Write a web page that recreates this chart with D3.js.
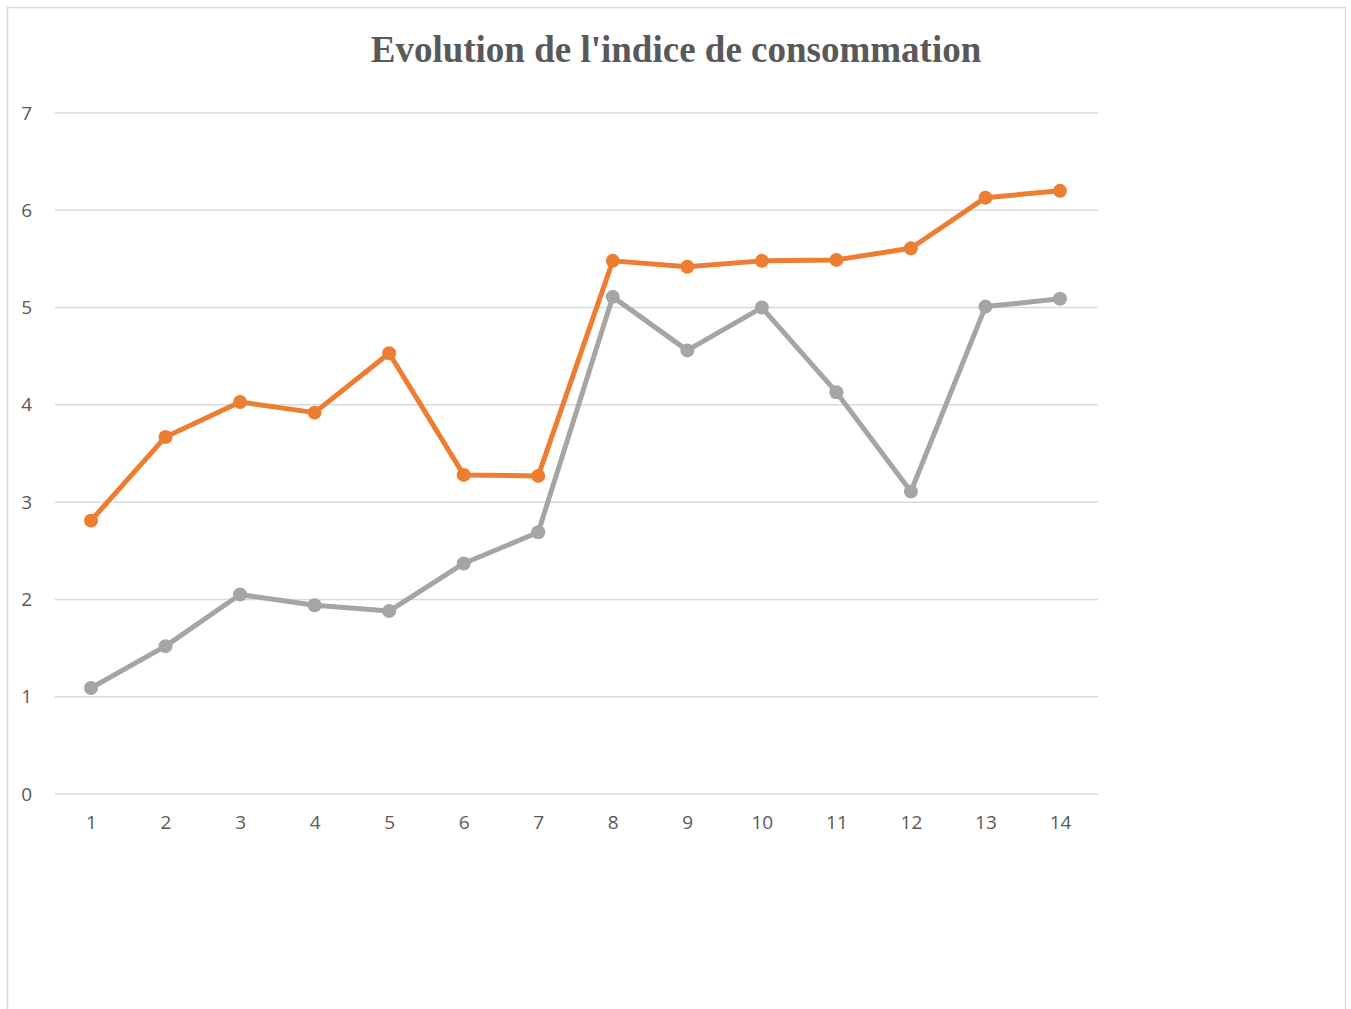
<!DOCTYPE html>
<html><head><meta charset="utf-8">
<script src="https://cdn.jsdelivr.net/npm/d3@7"></script>
<style>body{margin:0;background:#fff}svg{display:block}</style>
</head><body>
<script>
const title = "Evolution de l'indice de consommation";
const categories = [1,2,3,4,5,6,7,8,9,10,11,12,13,14];
const seriesOrange = [2.81,3.67,4.03,3.92,4.53,3.28,3.27,5.48,5.42,5.48,5.49,5.61,6.13,6.20];
const seriesGray = [1.09,1.52,2.05,1.94,1.88,2.37,2.69,5.11,4.56,5.00,4.13,3.11,5.01,5.09];
const yTicks = [0,1,2,3,4,5,6,7];

const W=1351,H=1009;
const svg=d3.select("body").append("svg").attr("width",W).attr("height",H);
svg.append("rect").attr("x",7.5).attr("y",7.5).attr("width",1338).attr("height",1010)
  .attr("fill","#fff").attr("stroke","#d9d9d9").attr("stroke-width",1.5);

const x=d3.scaleLinear().domain([1,14]).range([91,1060]);
const y=d3.scaleLinear().domain([0,7]).range([794,113]);

svg.append("text").attr("x",676).attr("y",62).attr("text-anchor","middle")
  .attr("font-family","Liberation Serif, Times New Roman, serif").attr("font-weight","bold")
  .attr("font-size",37).attr("fill","#595959").text(title);

const grid=svg.append("g");
grid.selectAll("line").data(yTicks).join("line")
  .attr("x1",55).attr("x2",1098).attr("y1",d=>y(d)).attr("y2",d=>y(d))
  .attr("stroke","#d9d9d9").attr("stroke-width",1.5);

const yAxis=d3.axisLeft(y).tickValues(yTicks).tickSize(0).tickPadding(0).tickFormat(d3.format("d"));
const ga=svg.append("g").attr("transform","translate(32,0)").call(yAxis);
ga.select(".domain").remove();
ga.selectAll("text").attr("font-family","Open Sans, Liberation Sans, sans-serif").attr("font-size",19).attr("fill","#595959");

const xAxis=d3.axisBottom(x).tickValues(categories).tickSize(0).tickPadding(0).tickFormat(d3.format("d"));
const gx=svg.append("g").attr("transform","translate(0,815)").call(xAxis);
gx.select(".domain").remove();
gx.selectAll("text").attr("font-family","Open Sans, Liberation Sans, sans-serif").attr("font-size",19).attr("fill","#595959");

function draw(vals,color){
  const line=d3.line().x((d,i)=>x(categories[i])).y(d=>y(d));
  svg.append("path").datum(vals).attr("d",line).attr("fill","none")
    .attr("stroke",color).attr("stroke-width",5).attr("stroke-linejoin","round");
  svg.append("g").selectAll("circle").data(vals).join("circle")
    .attr("cx",(d,i)=>x(categories[i])).attr("cy",d=>y(d)).attr("r",7).attr("fill",color);
}
draw(seriesGray,"#a5a5a5");
draw(seriesOrange,"#ed7d31");
</script>
</body></html>
